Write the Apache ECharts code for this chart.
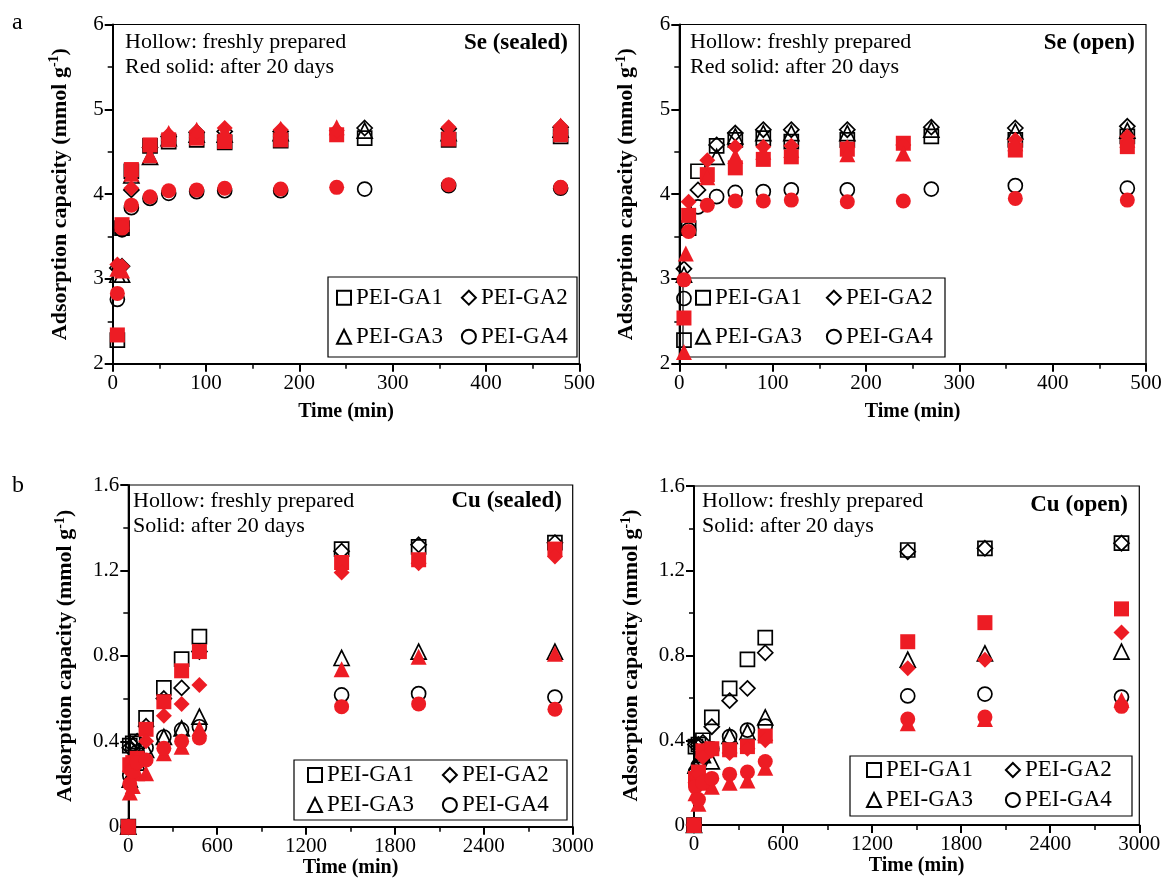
<!DOCTYPE html>
<html><head><meta charset="utf-8">
<script src="https://cdn.jsdelivr.net/npm/echarts@6/dist/echarts.min.js"></script>
<style>html,body{margin:0;padding:0;background:#fff}#chart{width:1165px;height:889px}</style>
</head><body><div id="chart"></div>
<script>
// ---------- DATA ----------
const gaNames = ['PEI-GA1', 'PEI-GA2', 'PEI-GA3', 'PEI-GA4'];

// Se (sealed)
const seSealedTimeFresh = [5, 10, 20, 40, 60, 90, 120, 180, 270, 360, 480];
const seSealedGA1Fresh = [2.28, 3.60, 4.27, 4.57, 4.62, 4.64, 4.61, 4.63, 4.66, 4.64, 4.68];
const seSealedGA2Fresh = [3.13, 3.15, 4.05, 4.55, 4.68, 4.73, 4.74, 4.74, 4.78, 4.77, 4.79];
const seSealedGA3Fresh = [3.05, 3.05, 4.22, 4.44, 4.66, 4.70, 4.70, 4.72, 4.75, 4.72, 4.76];
const seSealedGA4Fresh = [2.76, 3.58, 3.84, 3.95, 4.01, 4.03, 4.04, 4.04, 4.06, 4.10, 4.07];
const seSealedTimeAged = [5, 10, 20, 40, 60, 90, 120, 180, 240, 360, 480];
const seSealedGA1Aged = [2.34, 3.64, 4.29, 4.58, 4.64, 4.66, 4.62, 4.64, 4.70, 4.65, 4.70];
const seSealedGA2Aged = [3.17, 3.15, 4.07, 4.55, 4.70, 4.74, 4.78, 4.76, 4.75, 4.79, 4.80];
const seSealedGA3Aged = [3.12, 3.10, 4.24, 4.46, 4.72, 4.76, 4.74, 4.77, 4.79, 4.74, 4.81];
const seSealedGA4Aged = [2.83, 3.60, 3.87, 3.97, 4.04, 4.05, 4.07, 4.06, 4.08, 4.11, 4.08];

// Se (open)
const seOpenTimeFresh = [5, 10, 20, 40, 60, 90, 120, 180, 270, 360, 480];
const seOpenGA1Fresh = [2.28, 3.60, 4.27, 4.57, 4.64, 4.66, 4.62, 4.64, 4.68, 4.64, 4.68];
const seOpenGA2Fresh = [3.12, null, 4.05, 4.58, 4.72, 4.76, 4.76, 4.76, 4.79, 4.78, 4.80];
const seOpenGA3Fresh = [3.05, null, null, 4.44, 4.68, 4.72, 4.72, 4.72, 4.76, 4.74, 4.75];
const seOpenGA4Fresh = [2.77, 3.58, 3.85, 3.97, 4.02, 4.03, 4.05, 4.05, 4.06, 4.10, 4.07];
const seOpenTimeAged = [5, 7, 10, 30, 60, 90, 120, 180, 240, 360, 480];
const seOpenGA1Aged = [2.54, null, 3.75, 4.23, 4.31, 4.41, 4.44, 4.53, 4.60, 4.52, 4.56];
const seOpenGA2Aged = [null, null, 3.91, 4.40, 4.56, 4.56, 4.57, 4.55, 4.58, 4.64, 4.68];
const seOpenGA3Aged = [2.14, 3.30, null, 4.20, 4.45, 4.50, 4.52, 4.47, 4.48, 4.60, 4.64];
const seOpenGA4Aged = [2.99, null, 3.56, 3.87, 3.92, 3.92, 3.93, 3.91, 3.92, 3.95, 3.93];

// Cu (both)
const cuTime = [0, 10, 30, 60, 120, 240, 360, 480, 1440, 1960, 2880];
// Cu (sealed)
const cuSealedGA1Fresh = [0, 0.38, 0.39, 0.40, 0.51, 0.65, 0.785, 0.89, 1.30, 1.31, 1.33];
const cuSealedGA2Fresh = [0, 0.37, 0.38, 0.40, 0.47, 0.60, 0.65, 0.82, 1.29, 1.32, 1.33];
const cuSealedGA3Fresh = [0, 0.22, 0.26, 0.30, 0.36, 0.42, 0.46, 0.515, 0.79, 0.82, 0.82];
const cuSealedGA4Fresh = [0, 0.24, 0.30, 0.35, 0.37, 0.42, 0.453, 0.468, 0.617, 0.623, 0.607];
const cuSealedGA1Aged = [0, 0.29, 0.30, 0.32, 0.456, 0.585, 0.73, 0.82, 1.237, 1.25, 1.30];
const cuSealedGA2Aged = [0, 0.26, 0.28, 0.32, 0.40, 0.52, 0.575, 0.664, 1.19, 1.234, 1.265];
const cuSealedGA3Aged = [0, 0.16, 0.19, 0.25, 0.25, 0.344, 0.374, 0.46, 0.737, 0.796, 0.81];
const cuSealedGA4Aged = [0, 0.20, 0.26, 0.30, 0.312, 0.367, 0.40, 0.415, 0.562, 0.575, 0.55];
// Cu (open)
const cuOpenGA1Fresh = [0, 0.37, 0.38, 0.40, 0.508, 0.645, 0.782, 0.884, 1.298, 1.306, 1.33];
const cuOpenGA2Fresh = [0, 0.38, 0.38, 0.39, 0.464, 0.587, 0.645, 0.813, 1.29, 1.306, 1.33];
const cuOpenGA3Fresh = [0, 0.28, 0.30, 0.33, 0.30, 0.42, 0.44, 0.508, 0.78, 0.81, 0.818];
const cuOpenGA4Fresh = [0, 0.25, 0.28, 0.33, 0.36, 0.417, 0.448, 0.467, 0.609, 0.618, 0.604];
const cuOpenGA1Aged = [0, 0.22, 0.25, 0.35, 0.36, 0.355, 0.37, 0.42, 0.865, 0.955, 1.02];
const cuOpenGA2Aged = [0, 0.20, 0.24, 0.32, 0.35, 0.34, 0.36, 0.40, 0.74, 0.78, 0.908];
const cuOpenGA3Aged = [0, 0.15, 0.10, 0.20, 0.18, 0.20, 0.21, 0.27, 0.48, 0.50, 0.59];
const cuOpenGA4Aged = [0, 0.18, 0.12, 0.20, 0.22, 0.24, 0.25, 0.30, 0.50, 0.51, 0.56];

// Axis ticks
const seTicks = { min: 0, max: 500, interval: 100 };
const seYTicks = { min: 2, max: 6, interval: 1 };
const cuTicks = { min: 0, max: 3000, interval: 600 };
const cuYTicks = { min: 0, max: 1.6, interval: 0.4 };

// ---------- LAYOUT / STYLE ----------
const FONT = "'Liberation Serif','Times New Roman',serif";
const RED = '#ed1c24';
const shapes = ['rect', 'diamond', 'triangle', 'circle'];
const sizes = [14, 15, 15, 14];

const panels = [
  { grid: { left: 112.7, top: 24.5, width: 466.6, height: 339.3 }, x: seTicks, y: seYTicks,
    fresh: { t: seSealedTimeFresh, v: [seSealedGA1Fresh, seSealedGA2Fresh, seSealedGA3Fresh, seSealedGA4Fresh] },
    aged: { t: seSealedTimeAged, v: [seSealedGA1Aged, seSealedGA2Aged, seSealedGA3Aged, seSealedGA4Aged] },
    box: [328, 277, 249, 80], rows: [297.7, 336.7], lx: 336, gap: 18,
    line1: 'Hollow: freshly prepared', line2: 'Red solid: after 20 days', textX: 125, textY: [43, 68],
    tag: 'Se (sealed)', tagX: 568, tagY: 45, yGap: 40, xNameGap: 38 },
  { grid: { left: 679.3, top: 24.5, width: 466.7, height: 339.3 }, x: seTicks, y: seYTicks,
    fresh: { t: seOpenTimeFresh, v: [seOpenGA1Fresh, seOpenGA2Fresh, seOpenGA3Fresh, seOpenGA4Fresh] },
    aged: { t: seOpenTimeAged, v: [seOpenGA1Aged, seOpenGA2Aged, seOpenGA3Aged, seOpenGA4Aged] },
    box: [683, 278, 262, 79], rows: [297.7, 336.7], lx: 695, gap: 24,
    line1: 'Hollow: freshly prepared', line2: 'Red solid: after 20 days', textX: 690, textY: [43, 68],
    tag: 'Se (open)', tagX: 1135, tagY: 45, yGap: 40, xNameGap: 38 },
  { grid: { left: 128.3, top: 485, width: 444.4, height: 341.7 }, x: cuTicks, y: cuYTicks,
    fresh: { t: cuTime, v: [cuSealedGA1Fresh, cuSealedGA2Fresh, cuSealedGA3Fresh, cuSealedGA4Fresh] },
    aged: { t: cuTime, v: [cuSealedGA1Aged, cuSealedGA2Aged, cuSealedGA3Aged, cuSealedGA4Aged] },
    box: [294, 760, 273, 60], rows: [775, 805], lx: 307, gap: 28,
    line1: 'Hollow: freshly prepared', line2: 'Solid: after 20 days', textX: 133, textY: [502, 527],
    tag: 'Cu (sealed)', tagX: 562, tagY: 503, yGap: 50, xNameGap: 31 },
  { grid: { left: 694, top: 486, width: 445.3, height: 339 }, x: cuTicks, y: cuYTicks,
    fresh: { t: cuTime, v: [cuOpenGA1Fresh, cuOpenGA2Fresh, cuOpenGA3Fresh, cuOpenGA4Fresh] },
    aged: { t: cuTime, v: [cuOpenGA1Aged, cuOpenGA2Aged, cuOpenGA3Aged, cuOpenGA4Aged] },
    box: [850, 756, 282, 60], rows: [770, 800], lx: 866, gap: 32,
    line1: 'Hollow: freshly prepared', line2: 'Solid: after 20 days', textX: 702, textY: [502, 527],
    tag: 'Cu (open)', tagX: 1128, tagY: 507, yGap: 50, xNameGap: 31 }
];

function pairs(times, vals) {
  const out = [];
  times.forEach((t, i) => { if (vals[i] != null) out.push([t, vals[i]]); });
  return out;
}

const grids = [], xAxes = [], yAxes = [], series = [], legends = [], graphics = [];
const hollow = { color: 'rgba(0,0,0,0)', borderColor: '#000', borderWidth: 1.7, opacity: 1 };

panels.forEach((p, gi) => {
  grids.push(Object.assign({ show: true, borderColor: '#000', borderWidth: 1.2, backgroundColor: 'transparent' }, p.grid));
  xAxes.push({
    gridIndex: gi, type: 'value', min: p.x.min, max: p.x.max, interval: p.x.interval,
    axisLine: { show: true, onZero: false, lineStyle: { color: '#000', width: 2 } },
    axisTick: { show: true, length: 8, lineStyle: { color: '#000', width: 2 } },
    minorTick: { show: true, splitNumber: 2, length: 5, lineStyle: { color: '#000', width: 1.5 } },
    splitLine: { show: false },
    axisLabel: { fontFamily: FONT, fontSize: 21, color: '#000', margin: 9, formatter: v => String(v) },
    name: 'Time (min)', nameLocation: 'middle', nameGap: p.xNameGap,
    nameTextStyle: { fontFamily: FONT, fontWeight: 'bold', fontSize: 20, color: '#000' }
  });
  yAxes.push({
    gridIndex: gi, type: 'value', min: p.y.min, max: p.y.max, interval: p.y.interval,
    axisLine: { show: true, onZero: false, lineStyle: { color: '#000', width: 2 } },
    axisTick: { show: true, length: 8, lineStyle: { color: '#000', width: 2 } },
    minorTick: { show: true, splitNumber: 2, length: 5, lineStyle: { color: '#000', width: 1.5 } },
    splitLine: { show: false },
    axisLabel: { fontFamily: FONT, fontSize: 21, color: '#000', margin: 9,
      formatter: v => (p.y.interval < 1 ? (v === 0 ? '0' : v.toFixed(1)) : String(v)) },
    name: '{t|Adsorption capacity (mmol g}{s|-1}{t|)}', nameLocation: 'middle', nameGap: p.yGap,
    nameTextStyle: { color: '#000', rich: {
      t: { fontFamily: FONT, fontWeight: 'bold', fontSize: 22, lineHeight: 25, color: '#000' },
      s: { fontFamily: FONT, fontWeight: 'bold', fontSize: 14, lineHeight: 25, verticalAlign: 'top', color: '#000' } } }
  });
  for (let k = 0; k < 4; k++) {
    series.push({
      type: 'scatter', name: gaNames[k], xAxisIndex: gi, yAxisIndex: gi,
      symbol: shapes[k], symbolSize: sizes[k], itemStyle: hollow, z: 2,
      emphasis: { disabled: true }, data: pairs(p.fresh.t, p.fresh.v[k])
    });
  }
  for (let k = 0; k < 4; k++) {
    series.push({
      type: 'scatter', name: gaNames[k] + ' (after 20 days)', xAxisIndex: gi, yAxisIndex: gi,
      symbol: shapes[k], symbolSize: sizes[k] + 1, itemStyle: { color: RED, opacity: 1 }, z: 3,
      emphasis: { disabled: true }, data: pairs(p.aged.t, p.aged.v[k])
    });
  }
  [[0, 1], [2, 3]].forEach((pair, r) => {
    legends.push({
      left: p.lx, top: p.rows[r] - 12, orient: 'horizontal', itemGap: p.gap, padding: 0,
      itemWidth: 14, itemHeight: 14, selectedMode: false, z: 1,
      textStyle: { fontFamily: FONT, fontSize: 23, lineHeight: 24, color: '#000' },
      data: pair.map(k => ({ name: gaNames[k], icon: shapes[k],
        itemStyle: { color: 'rgba(0,0,0,0)', borderColor: '#000', borderWidth: 2 } }))
    });
  });
  graphics.push({ type: 'rect', z: 0, silent: true,
    shape: { x: p.box[0], y: p.box[1], width: p.box[2], height: p.box[3] },
    style: { fill: null, stroke: '#000', lineWidth: 1.2 } });
  graphics.push({ type: 'text', left: p.textX, top: p.textY[0] - 12, silent: true,
    style: { text: p.line1, fontFamily: FONT, fontSize: 22, fill: '#000' } });
  graphics.push({ type: 'text', left: p.textX, top: p.textY[1] - 12, silent: true,
    style: { text: p.line2, fontFamily: FONT, fontSize: 22, fill: '#000' } });
  graphics.push({ type: 'text', right: 1165 - p.tagX, top: p.tagY - 13, silent: true,
    style: { text: p.tag, fontFamily: FONT, fontSize: 23, fontWeight: 'bold', fill: '#000' } });
});

graphics.push({ type: 'text', left: 12, top: 11, silent: true, style: { text: 'a', fontFamily: FONT, fontSize: 24, fill: '#000' } });
graphics.push({ type: 'text', left: 12, top: 474, silent: true, style: { text: 'b', fontFamily: FONT, fontSize: 24, fill: '#000' } });

const chart = echarts.init(document.getElementById('chart'), null, { renderer: 'canvas' });
chart.setOption({
  animation: false,
  backgroundColor: '#fff',
  grid: grids, xAxis: xAxes, yAxis: yAxes, series: series, legend: legends,
  graphic: { elements: graphics }
});
</script></body></html>
